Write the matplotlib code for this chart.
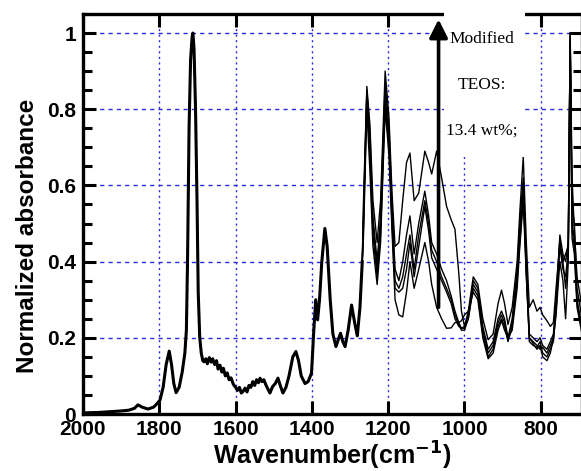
import numpy as np
import matplotlib.pyplot as plt
from matplotlib.patches import Rectangle
from matplotlib.ticker import MultipleLocator

plt.rcParams['font.family'] = ['Liberation Sans', 'DejaVu Sans']
plt.rcParams['font.weight'] = 'bold'

# part of the spectrum shared by all samples (2000 -> 1268 cm-1)
wn_common = [2000, 1960, 1930, 1900, 1880, 1865, 1856, 1845, 1830, 1815,
             1805, 1798, 1790, 1782, 1774, 1768, 1762, 1756, 1748, 1740,
             1733, 1729, 1726, 1722, 1718, 1714, 1712, 1709, 1705, 1701,
             1698, 1694, 1690, 1686, 1683, 1678, 1674, 1669, 1664, 1660,
             1655, 1650, 1646, 1641, 1636, 1632, 1627, 1622, 1617, 1612,
             1606, 1600, 1595, 1590, 1585, 1580, 1575, 1570, 1565, 1560,
             1555, 1550, 1545, 1540, 1536, 1531, 1526, 1520, 1515, 1510,
             1503, 1496, 1489, 1483, 1476, 1468, 1460, 1450, 1442, 1435,
             1428, 1418, 1410, 1401, 1395, 1390, 1385, 1380, 1374, 1366,
             1360, 1352, 1345, 1337, 1331, 1325, 1319, 1313, 1305, 1296,
             1288, 1281, 1274, 1268]
abs_common = [0.003, 0.004, 0.006, 0.008, 0.010, 0.015, 0.024, 0.018, 0.013, 0.018,
              0.028, 0.037, 0.07, 0.13, 0.165, 0.13, 0.08, 0.056, 0.07, 0.11,
              0.16, 0.22, 0.40, 0.75, 0.93, 0.99, 1.0, 0.96, 0.80, 0.55,
              0.32, 0.20, 0.16, 0.14, 0.137, 0.145, 0.132, 0.148, 0.136, 0.145,
              0.13, 0.14, 0.118, 0.128, 0.11, 0.12, 0.10, 0.108, 0.09, 0.095,
              0.078, 0.07, 0.062, 0.07, 0.055, 0.06, 0.068, 0.058, 0.075, 0.07,
              0.085, 0.075, 0.09, 0.082, 0.094, 0.085, 0.09, 0.075, 0.065, 0.055,
              0.072, 0.08, 0.094, 0.075, 0.055, 0.07, 0.10, 0.15, 0.164, 0.14,
              0.10, 0.08, 0.085, 0.107, 0.22, 0.30, 0.247, 0.30, 0.40, 0.487,
              0.44, 0.30, 0.21, 0.177, 0.195, 0.212, 0.19, 0.177, 0.22, 0.286,
              0.24, 0.205, 0.28, 0.40]

# part where the samples differ (1265 -> 692 cm-1)
wn_split = [1265, 1256, 1248, 1240, 1229, 1220, 1208, 1198, 1190, 1182,
            1172, 1162, 1152, 1143, 1132, 1120, 1104, 1094, 1086, 1073,
            1060, 1047, 1035, 1025, 1015, 1008, 1000, 990, 977, 965,
            952, 938, 925, 912, 903, 895, 886, 875, 862, 855,
            846, 838, 830, 820, 810, 802, 795, 784, 775, 767,
            760, 750, 742, 735, 728, 723, 718, 712, 705, 692]
abs_s1 = [0.55, 0.86, 0.76, 0.56, 0.45, 0.56, 0.90, 0.78, 0.58, 0.44,
          0.45, 0.56, 0.66, 0.685, 0.56, 0.58, 0.69, 0.66, 0.63, 0.69,
          0.62, 0.545, 0.51, 0.485, 0.37, 0.27, 0.23, 0.27, 0.36, 0.34,
          0.25, 0.195, 0.21, 0.29, 0.325, 0.29, 0.235, 0.28, 0.40, 0.53,
          0.675, 0.45, 0.28, 0.30, 0.27, 0.28, 0.26, 0.245, 0.23, 0.24,
          0.33, 0.45, 0.40, 0.33, 0.42, 1.0, 0.62, 0.48, 0.36, 0.28]
abs_s2 = [0.52, 0.85, 0.74, 0.52, 0.40, 0.52, 0.87, 0.75, 0.55, 0.38,
          0.35, 0.40, 0.47, 0.52, 0.42, 0.50, 0.585, 0.52, 0.45, 0.42,
          0.38, 0.35, 0.31, 0.27, 0.24, 0.225, 0.225, 0.26, 0.35, 0.33,
          0.23, 0.17, 0.19, 0.25, 0.27, 0.25, 0.20, 0.25, 0.38, 0.50,
          0.62, 0.40, 0.21, 0.20, 0.19, 0.20, 0.18, 0.17, 0.19, 0.21,
          0.30, 0.47, 0.42, 0.40, 0.45, 0.98, 0.55, 0.50, 0.33, 0.25]
abs_s3 = [0.50, 0.84, 0.70, 0.50, 0.38, 0.50, 0.84, 0.72, 0.52, 0.35,
          0.33, 0.36, 0.42, 0.47, 0.38, 0.47, 0.56, 0.50, 0.43, 0.40,
          0.36, 0.33, 0.30, 0.26, 0.235, 0.22, 0.22, 0.25, 0.34, 0.32,
          0.22, 0.16, 0.18, 0.24, 0.26, 0.24, 0.195, 0.24, 0.36, 0.47,
          0.60, 0.38, 0.20, 0.19, 0.18, 0.17, 0.175, 0.16, 0.18, 0.20,
          0.28, 0.46, 0.40, 0.42, 0.44, 0.99, 0.50, 0.46, 0.30, 0.23]
abs_s4 = [0.48, 0.83, 0.68, 0.47, 0.36, 0.47, 0.82, 0.70, 0.50, 0.33,
          0.32, 0.33, 0.38, 0.45, 0.36, 0.44, 0.545, 0.48, 0.41, 0.38,
          0.35, 0.32, 0.29, 0.25, 0.23, 0.225, 0.23, 0.25, 0.33, 0.31,
          0.21, 0.15, 0.17, 0.23, 0.25, 0.23, 0.19, 0.23, 0.35, 0.45,
          0.58, 0.37, 0.19, 0.18, 0.175, 0.19, 0.16, 0.15, 0.17, 0.19,
          0.27, 0.44, 0.38, 0.36, 0.43, 1.0, 0.48, 0.44, 0.29, 0.22]
abs_s5 = [0.46, 0.80, 0.64, 0.44, 0.34, 0.45, 0.80, 0.68, 0.48, 0.30,
          0.26, 0.255, 0.32, 0.40, 0.33, 0.38, 0.45, 0.40, 0.34, 0.28,
          0.25, 0.225, 0.226, 0.24, 0.24, 0.245, 0.26, 0.27, 0.32, 0.30,
          0.20, 0.145, 0.16, 0.22, 0.245, 0.22, 0.20, 0.22, 0.33, 0.44,
          0.56, 0.36, 0.20, 0.185, 0.17, 0.18, 0.15, 0.14, 0.16, 0.20,
          0.26, 0.40, 0.35, 0.25, 0.40, 0.97, 0.46, 0.42, 0.28, 0.21]

x_ticks = [2000, 1800, 1600, 1400, 1200, 1000, 800]
note_lines = ['Modified', 'TEOS:', '13.4 wt%;']

fig = plt.figure(figsize=(5.81, 4.71), dpi=100)
ax = fig.add_axes([83/581, 57/471, 499/581, 400/471])

for s in [abs_s1, abs_s2, abs_s3, abs_s4, abs_s5]:
    ax.plot(wn_common + wn_split, abs_common + s, color='k', lw=1.0)
ax.plot(wn_common, abs_common, color='k', lw=2.2)

ax.set_xlim(2000, 692)
ax.set_ylim(0, 1.05)
ax.set_xticks(x_ticks)
ax.yaxis.set_major_locator(MultipleLocator(0.2))
ax.yaxis.set_minor_locator(MultipleLocator(0.05))
ax.yaxis.set_major_formatter(lambda v, p: '%g' % round(v, 2))

ax.xaxis.grid(True, color='#2a2ae0', linestyle=(0, (1.5, 2.5)), lw=1.0)
ax.yaxis.grid(True, color='#2a2ae0', linestyle=(0, (3, 3)), lw=1.0)

ax.tick_params(which='major', direction='in', length=9.5, width=2.2,
               top=True, right=True, labelsize=15, pad=4)
ax.tick_params(axis='y', which='major', pad=5)
ax.tick_params(axis='y', which='minor', direction='in', length=6.5,
               width=2.2, right=True)
for sp in ax.spines.values():
    sp.set_linewidth(2.4)

ax.set_xlabel('Wavenumber(cm$^{\\mathbf{-1}}$)', fontsize=18, fontweight='bold',
              labelpad=1)
ax.set_ylabel('Normalized absorbance', fontsize=17.5, fontweight='bold')
ax.yaxis.set_label_coords(-0.088, 0.445)

# white box behind the note
ax.add_patch(Rectangle((841, 0.675), 213, 0.5, facecolor='white',
                       edgecolor='none', clip_on=False, zorder=3))
ax.annotate('', xy=(1068, 1.036), xytext=(1068, 0.28),
            arrowprops=dict(arrowstyle='-|>,head_length=0.5,head_width=0.25',
                            lw=2.6, color='k', mutation_scale=22,
                            shrinkA=0, shrinkB=0),
            zorder=5)
for txt, yv in zip(note_lines, [0.984, 0.864, 0.743]):
    ax.text(955, yv, txt, fontsize=12.5, family='Liberation Serif',
            fontweight='normal', ha='center', va='center', zorder=6)

fig.savefig('out.png', dpi=100)
